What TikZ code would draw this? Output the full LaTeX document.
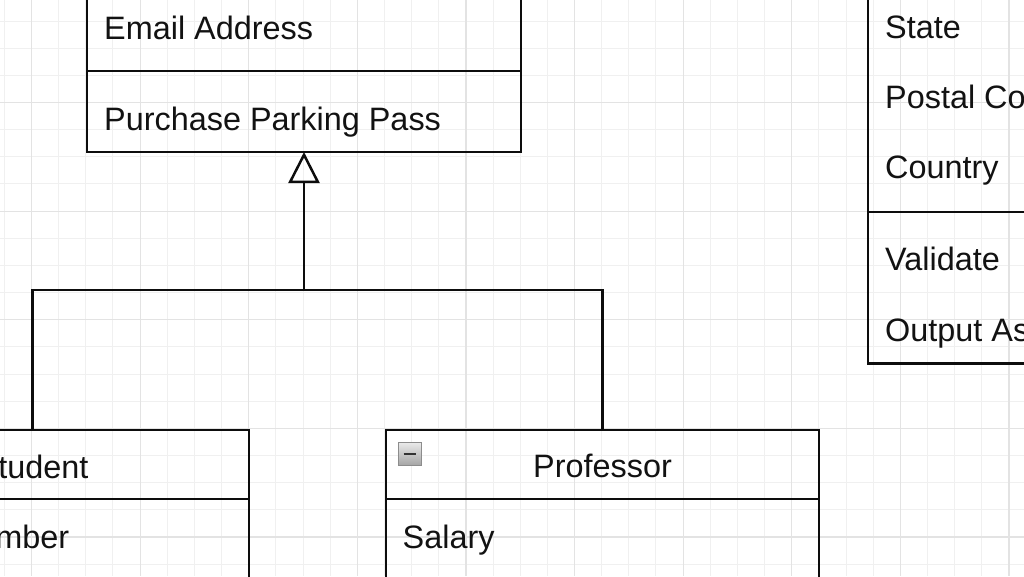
\documentclass[tikz,border=0pt]{standalone}
\usepackage{fontspec}
\setmainfont{Liberation Sans}
\usetikzlibrary{arrows.meta}
\begin{document}
\begin{tikzpicture}[x=1pt,y=-1pt,
  minorgrid/.style={draw=black!6, line width=1pt},
  majorgrid/.style={draw=black!11, line width=1.2pt},
  box/.style={draw=black!95, line width=2.5pt, inner sep=0pt, outer sep=0pt},
  lbl/.style={inner sep=0pt, font=\fontsize{32.4}{38}\selectfont, text=black!93},
  conn/.style={draw=black!95, line width=2.5pt},
  icon/.style={draw=black!45, line width=1pt, top color=black!8, bottom color=black!35, minimum width=23pt, minimum height=23pt, inner sep=0pt},
]
\useasboundingbox (0,0) rectangle (1024,576);
\clip (0,0) rectangle (1024,576);
\fill[white] (0,0) rectangle (1024,576);
% grid
\foreach \i in {-2,...,38} { \draw[minorgrid] ({31.5+27.15*\i},0) -- ({31.5+27.15*\i},576); }
\foreach \i in {0,...,22} { \draw[minorgrid] (0,{-6.1+27.15*\i}) -- (1024,{-6.1+27.15*\i}); }
\foreach \i in {0,...,9} { \draw[majorgrid] ({31.5+108.6*\i},0) -- ({31.5+108.6*\i},576); }
\foreach \i in {0,...,5} { \draw[majorgrid] (0,{-6.1+108.6*\i}) -- (1024,{-6.1+108.6*\i}); }

% top class
\node[box, minimum width=434pt, minimum height=221pt] (pattr) at (304,-39.5) {};
\node[box, minimum width=434pt, minimum height=81pt] (pmeth) at (304,111.5) {};
\node[lbl, anchor=base west] (temail) at (104,39) {Email Address};
\node[lbl, anchor=base west] (tpark) at (104,130) {Purchase Parking Pass};

% right class
\node[box, minimum width=434pt, minimum height=312pt] (aattr) at (1085,56) {};
\node[box, minimum width=434pt, minimum height=151.5pt] (ameth) at (1085,287.75) {};
\node[lbl, anchor=base west] (tstate) at (885,38) {State};
\node[lbl, anchor=base west] (tpostal) at (885,108.5) {Postal Code};
\node[lbl, anchor=base west] (tcountry) at (885,178) {Country};
\node[lbl, anchor=base west] (tvalid) at (885,270) {Validate};
\node[lbl, anchor=base west] (toutput) at (885,341.5) {Output As Label};

% Student
\node[box, minimum width=433pt, minimum height=69pt] (shead) at (32.5,464.5) {};
\node[box, minimum width=433pt, minimum height=160pt] (sattr) at (32.5,579) {};
\node[lbl, anchor=base] (tstudent) at (32.5,478) {Student};
\node[lbl, anchor=base west] (tnumber) at (-167,548) {Student Number};

% Professor
\node[box, minimum width=433pt, minimum height=69pt] (phead) at (602.5,464.5) {};
\node[box, minimum width=433pt, minimum height=160pt] (pattr2) at (602.5,579) {};
\node[icon] (pico) at (409.5,453.7) {};
\draw[draw=black!80, line width=2.4pt] ([xshift=-6pt]pico.center) -- ([xshift=6pt]pico.center);
\node[lbl, anchor=base] (tprof) at (602.5,477.5) {Professor};
\node[lbl, anchor=base west] (tsalary) at (402.5,548) {Salary};

% generalization
\coordinate (j) at (304,290);
\draw[conn] (shead.north) |- (j) -| (phead.north);
\draw[conn, -{Triangle[open, length=31pt, width=31pt, line width=2.5pt]}] (j) -- (pmeth.south);
\end{tikzpicture}
\end{document}
